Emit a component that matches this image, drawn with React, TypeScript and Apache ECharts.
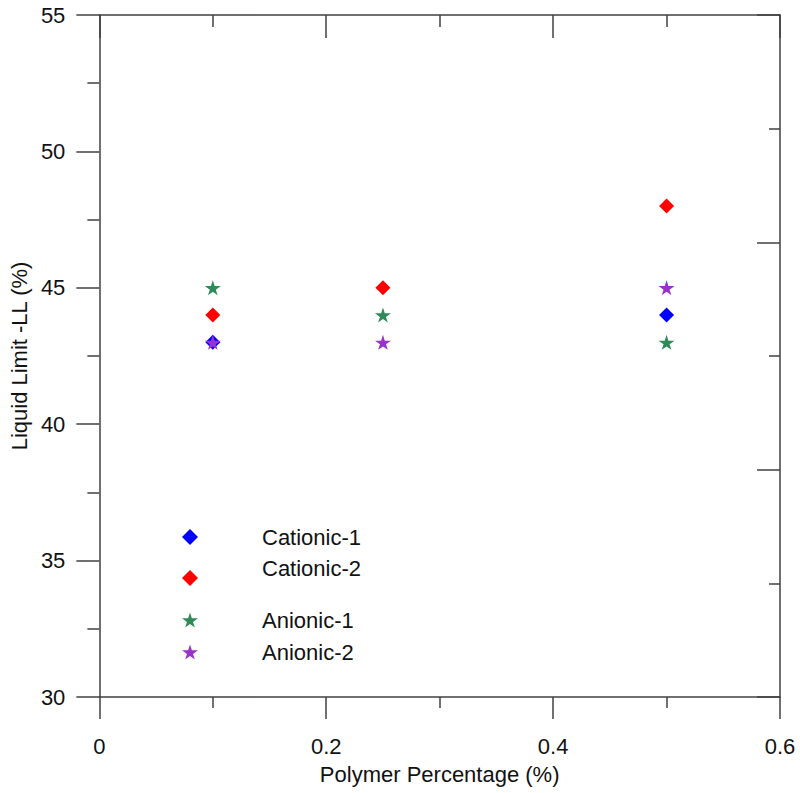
import React, { useEffect, useRef } from "react";
import * as echarts from "echarts";

const xValues = [0.1, 0.25, 0.5];
const cationic1 = [43, null, 44];
const cationic2 = [44, 45, 48];
const anionic1 = [45, 44, 43];
const anionic2 = [43, 43, 45];
const seriesNames = ["Cationic-1", "Cationic-2", "Anionic-1", "Anionic-2"];
const seriesColors = ["#0000ff", "#ff0000", "#2e8b57", "#9932cc"];
const xTickLabels = ["0", "0.2", "0.4", "0.6"];

const STAR = "path://M50,0 L61,35 L98,35 L68,57 L79,91 L50,70 L21,91 L32,57 L2,35 L39,35 Z";
const DIAMOND = "diamond";

function pairs(vals: (number | null)[]) {
  const out: [number, number][] = [];
  vals.forEach((v, i) => {
    if (v !== null) out.push([xValues[i], v]);
  });
  return out;
}

export default function App() {
  const ref = useRef<HTMLDivElement>(null);
  useEffect(() => {
    if (!ref.current) return;
    const chart = echarts.init(ref.current, null, { renderer: "svg" });
    const axisColor = "#404040";
    const font = "'Liberation Sans', Arial, sans-serif";
    const lineStyle = { color: axisColor, width: 1.5 };
    const seriesData = [cationic1, cationic2, anionic1, anionic2];
    const symbols = [DIAMOND, DIAMOND, STAR, STAR];
    const sizes = [15, 15, [16, 15], [16, 15]];
    const legendRows = [
      { icon: 537, raised: false },
      { icon: 578, raised: true },
      { icon: 620, raised: false },
      { icon: 652, raised: false },
    ];
    chart.setOption({
      animation: false,
      grid: { left: 97, right: 20, top: 15, bottom: 96, containLabel: false },
      xAxis: [
        {
          type: "value",
          position: "bottom",
          min: 0,
          max: 0.6,
          interval: 0.2,
          name: "Polymer Percentage (%)",
          nameLocation: "middle",
          nameGap: 66,
          nameTextStyle: { fontFamily: font, fontSize: 22, color: "#111" },
          axisLine: { show: true, onZero: false, lineStyle },
          axisTick: { show: true, inside: false, length: 22, lineStyle },
          minorTick: { show: true, splitNumber: 2, length: 11, lineStyle },
          splitLine: { show: false },
          minorSplitLine: { show: false },
          axisLabel: {
            margin: 38,
            fontFamily: font,
            fontSize: 22,
            color: "#111",
            formatter: (v: number) => xTickLabels[Math.round(v / 0.2)] ?? String(v),
          },
        },
        {
          type: "value",
          position: "top",
          min: 0,
          max: 0.6,
          interval: 0.2,
          axisLine: { show: true, onZero: false, lineStyle },
          axisTick: { show: true, inside: true, length: 23, lineStyle },
          minorTick: { show: true, splitNumber: 2, length: 12, lineStyle },
          splitLine: { show: false },
          axisLabel: { show: false },
        },
      ],
      yAxis: [
        {
          type: "value",
          position: "left",
          min: 30,
          max: 55,
          interval: 5,
          name: "Liquid Limit -LL (%)",
          nameLocation: "middle",
          nameGap: 66,
          nameTextStyle: { fontFamily: font, fontSize: 22, color: "#111" },
          axisLine: { show: true, onZero: false, lineStyle },
          axisTick: { show: true, inside: false, length: 23, lineStyle },
          minorTick: { show: true, splitNumber: 2, length: 12, lineStyle },
          splitLine: { show: false },
          axisLabel: { margin: 34, fontFamily: font, fontSize: 22, color: "#111" },
        },
        {
          type: "value",
          position: "right",
          min: 0,
          max: 3,
          interval: 1,
          axisLine: { show: true, onZero: false, lineStyle },
          axisTick: { show: true, inside: true, length: 23, lineStyle },
          minorTick: { show: true, splitNumber: 2, length: 11, lineStyle },
          splitLine: { show: false },
          axisLabel: { show: false },
        },
      ],
      legend: seriesNames.map((name, i) => ({
        data: [name],
        orient: "vertical",
        left: 182,
        top: legendRows[i].icon - (legendRows[i].raised ? 21 : 11),
        padding: 0,
        itemWidth: 16,
        itemHeight: 16,
        selectedMode: false,
        formatter: legendRows[i].raised ? (n: string) => `{a|${n}}\n{b|}` : undefined,
        textStyle: {
          fontFamily: font,
          fontSize: 22,
          color: "#111",
          lineHeight: 22,
          padding: [0, 0, 0, 59],
          rich: {
            a: { fontFamily: font, fontSize: 22, color: "#111", lineHeight: 22 },
            b: { fontSize: 2, lineHeight: 20, height: 20 },
          },
        },
      })),
      series: seriesNames.map((name, i) => ({
        name,
        type: "scatter",
        xAxisIndex: 0,
        yAxisIndex: 0,
        symbol: symbols[i],
        symbolSize: sizes[i],
        itemStyle: { color: seriesColors[i], opacity: 1 },
        data: pairs(seriesData[i]),
        z: i + 2,
      })),
    });
    return () => chart.dispose();
  }, []);
  return <div ref={ref} style={{ width: 800, height: 793, position: "absolute", left: 0, top: 0 }} />;
}
